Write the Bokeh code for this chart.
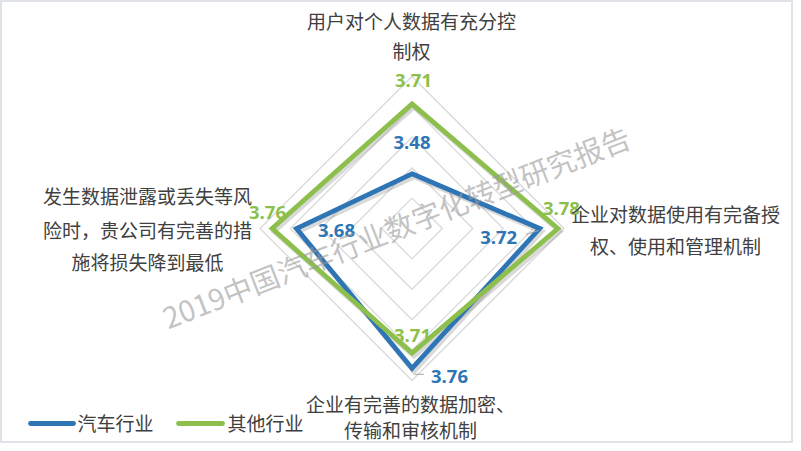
import numpy as np
from bokeh.plotting import figure
from bokeh.models import Range1d, ColumnDataSource
from bokeh.core.properties import value
from bokeh.embed import file_html
from bokeh.resources import INLINE

# ---------------- data ----------------
categories = [
    ["用户对个人数据有充分控", "制权"],
    ["企业对数据使用有完备授", "权、使用和管理机制"],
    ["企业有完善的数据加密、", "传输和审核机制"],
    ["发生数据泄露或丢失等风", "险时，贵公司有完善的措", "施将损失降到最低"],
]
series_names = ["汽车行业", "其他行业"]
auto_values = [3.48, 3.72, 3.76, 3.68]
other_values = [3.71, 3.78, 3.71, 3.76]
axis_min = 3.3
axis_max = 3.8
axis_step = 0.1
watermark = "2019中国汽车行业数字化转型研究报告"

# ---------------- layout / style ----------------
W, H = 793, 443
K = 304.0            # pixels per value unit
CX, CY = 411.5, 228  # centre of radar in figure pixels (from top-left)
BLUE = "#2e75b6"
GREEN = "#8cbf4b"
GRID = "#d9d9d9"
TXT = "#404040"
CJK = "Noto Sans CJK SC"
FS = "19px"

def fx(px):  # picture px -> data x
    return (px - CX) / K

def fy(py):  # picture px -> data y
    return (CY - py) / K

p = figure(width=W, height=H, output_backend="svg", toolbar_location=None,
           x_axis_type=None, y_axis_type=None,
           x_range=Range1d(-CX / K, (W - CX) / K),
           y_range=Range1d(-(H - CY) / K, CY / K),
           min_border=0)
p.min_border_left = p.min_border_right = p.min_border_top = p.min_border_bottom = 0
p.outline_line_color = "#dfe3e8"
p.outline_line_width = 3
p.background_fill_color = "white"
p.border_fill_color = "white"

n = len(categories)
angles = [np.pi / 2 - i * 2 * np.pi / n for i in range(n)]

def polar(vals):
    r = np.array(vals) - axis_min
    return list(r * np.cos(angles)), list(r * np.sin(angles))

# rings
levels = np.arange(axis_min + axis_step, axis_max + 1e-9, axis_step)
ring_xs, ring_ys = [], []
for lv in levels:
    xs, ys = polar([lv] * n)
    ring_xs.append(xs)
    ring_ys.append(ys)
p.patches(ring_xs, ring_ys, fill_color=None, line_color=GRID, line_width=1.3)

# series (shadow + line)
sdx, sdy = 2.0 / K, -3.0 / K
for vals, col in [(auto_values, BLUE), (other_values, GREEN)]:
    xs, ys = polar(vals)
    p.patch([x + sdx for x in xs], [y + sdy for y in ys], fill_color=None,
            line_color="#808080", line_alpha=0.3, line_width=5, line_join="miter")
for vals, col in [(auto_values, BLUE), (other_values, GREEN)]:
    xs, ys = polar(vals)
    p.patch(xs, ys, fill_color=None, line_color=col, line_width=4.8, line_join="miter")

# small leader lines of two blue labels (right, bottom)
bx, by = polar(auto_values)
p.segment(x0=[bx[1] - 14 / K, by[1] * 0 + bx[2] + 3 / K],
          y0=[by[1] - 6 / K, by[2] - 6 / K],
          x1=[bx[1] - 1 / K, bx[2] + 12 / K],
          y1=[by[1] - 2 / K, by[2] - 6 / K],
          line_color="#a6a6a6", line_width=1)

# data labels
blue_off = [(0, -31), (-41, 9), (37.5, 8), (40, 2)]
green_off = [(1.5, -23), (3.5, -20.5), (0.5, -18), (-4.7, -16.5)]
for vals, col, offs in [(auto_values, BLUE, blue_off), (other_values, GREEN, green_off)]:
    xs, ys = polar(vals)
    src = ColumnDataSource(dict(x=xs, y=ys, t=[f"{v:.2f}" for v in vals],
                                dx=[o[0] for o in offs], dy=[o[1] for o in offs]))
    p.text(x="x", y="y", text="t", x_offset="dx", y_offset="dy", source=src,
           text_color=col, text_font=value("Open Sans"), text_font_style="bold",
           text_font_size="18.5px", text_align="center", text_baseline="middle")

# category labels (picture px positions of each line centre)
cat_pos = [
    [(411, 20), (411, 50)],
    [(675, 213), (675, 245)],
    [(410, 403), (410, 429)],
    [(147, 195), (147, 229), (147, 261)],
]
lx, ly, lt = [], [], []
for lines, pos in zip(categories, cat_pos):
    for line, (px, py) in zip(lines, pos):
        lx.append(fx(px)); ly.append(fy(py)); lt.append(line)
p.text(x=lx, y=ly, text=lt, text_color=TXT, text_font=value(CJK),
       text_font_size=FS, text_align="center", text_baseline="middle")

# legend (drawn manually)
leg_colors = [BLUE, GREEN]
leg_x0 = [30, 178]
leg_x1 = [73, 222]
leg_tx = [77, 227]
leg_y = 423
p.segment(x0=[fx(v) for v in leg_x0], y0=[fy(leg_y)] * 2,
          x1=[fx(v) for v in leg_x1], y1=[fy(leg_y)] * 2,
          line_color=leg_colors, line_width=4.8, line_cap="round")
p.text(x=[fx(v) for v in leg_tx], y=[fy(leg_y - 1)] * 2, text=series_names,
       text_color=TXT, text_font=value(CJK), text_font_size=FS,
       text_align="left", text_baseline="middle")

# watermark
p.text(x=[fx(163)], y=[fy(317)], text=[watermark], angle=np.deg2rad(21.5),
       text_color="#9a9a9a", text_alpha=0.6, text_font=value(CJK),
       text_font_size="29px", text_align="left", text_baseline="alphabetic")

with open("out.html", "w", encoding="utf-8") as f:
    f.write(file_html(p, INLINE))
